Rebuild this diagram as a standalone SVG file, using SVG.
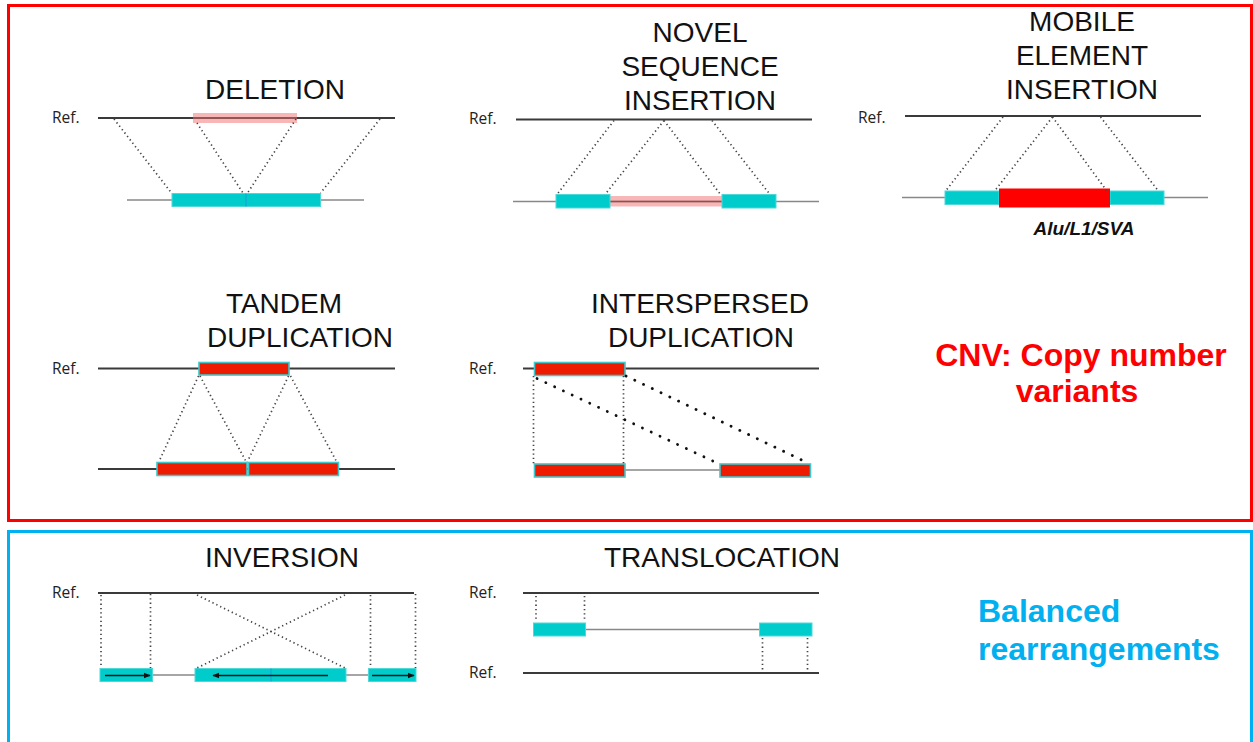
<svg xmlns="http://www.w3.org/2000/svg" width="1253" height="742" viewBox="0 0 1253 742">
  <style>
    .title { font-family: "Liberation Sans", Arial, sans-serif; font-size: 28px; fill: #111; text-anchor: middle; }
    .ref { font-family: "Open Sans", "Noto Sans", sans-serif; font-size: 15.5px; fill: #222; }
    .refline { stroke: #3a3a3a; stroke-width: 2; fill: none; }
    .thin { stroke: #888; stroke-width: 1.5; fill: none; }
    .dot { stroke: #444; stroke-width: 1.7; stroke-dasharray: 1.3 3; fill: none; }
    .bigdot { stroke: #111; stroke-width: 2.8; stroke-dasharray: 0.1 9.6; stroke-linecap: round; fill: none; }
    .seg { fill: #00cccc; stroke: #4fd8d8; stroke-width: 1; }
    .dup { fill: #ef1b00; stroke: #3cc8cc; stroke-width: 1.6; }
    .pink { fill: #f07070; fill-opacity: 0.5; }
    .div { stroke: #1e9bd8; stroke-width: 1; }
    .arr { stroke: #111; stroke-width: 1.3; fill: none; marker-end: url(#head); }
    .big { font-family: "Liberation Sans", Arial, sans-serif; font-size: 32px; font-weight: bold; }
  </style>
  <defs>
    <marker id="head" viewBox="0 0 10 10" refX="9" refY="5" markerWidth="7" markerHeight="7" markerUnits="userSpaceOnUse" orient="auto">
      <path d="M0,1 L10,5 L0,9 Z" fill="#111"/>
    </marker>
  </defs>

  <rect width="1253" height="742" fill="#ffffff"/>

  <!-- section frames -->
  <g id="frames">
    <rect x="8.5" y="5.5" width="1243" height="515" fill="none" stroke="#ff0000" stroke-width="3"/>
    <rect x="8.5" y="531.5" width="1243" height="230" fill="none" stroke="#00b0f0" stroke-width="3"/>
  </g>

  <!-- Deletion -->
  <g id="deletion">
    <text class="title" x="275" y="99">DELETION</text>
    <text class="ref" x="52" y="123">Ref.</text>
    <line class="refline" x1="98" y1="118" x2="395" y2="118"/>
    <rect class="pink" x="193" y="113" width="104" height="10"/>
    <line class="thin" x1="127" y1="200" x2="364" y2="200"/>
    <rect class="seg" x="172" y="193.5" width="148.5" height="13"/>
    <line class="div" x1="246" y1="193.5" x2="246" y2="206.5"/>
  </g>

  <!-- Novel sequence insertion -->
  <g id="novel-insertion">
    <text class="title" x="700" y="42">NOVEL</text>
    <text class="title" x="700" y="76">SEQUENCE</text>
    <text class="title" x="700" y="110">INSERTION</text>
    <text class="ref" x="469" y="124">Ref.</text>
    <line class="refline" x1="516" y1="119.5" x2="812" y2="119.5"/>
    <line class="thin" x1="513" y1="201.5" x2="819" y2="201.5"/>
    <line x1="610" y1="201.5" x2="722" y2="201.5" stroke="#333" stroke-width="1.5"/>
    <rect class="pink" x="610" y="196" width="112" height="10.5"/>
    <rect class="seg" x="556" y="194.5" width="54" height="13.5"/>
    <rect class="seg" x="722" y="194.5" width="54" height="13.5"/>
  </g>

  <!-- Mobile element insertion -->
  <g id="mobile-insertion">
    <text class="title" x="1082" y="31">MOBILE</text>
    <text class="title" x="1082" y="65">ELEMENT</text>
    <text class="title" x="1082" y="99">INSERTION</text>
    <text class="ref" x="858" y="123">Ref.</text>
    <line class="refline" x1="905" y1="116" x2="1201" y2="116"/>
    <line class="thin" x1="902" y1="197.5" x2="1208" y2="197.5"/>
    <rect class="seg" x="945" y="191" width="54" height="13.5"/>
    <rect class="seg" x="1110" y="191" width="54" height="13.5"/>
    <rect x="999" y="188.5" width="111" height="19" fill="#ff0000"/>
    <text x="1084" y="235" font-family="Liberation Sans, Arial, sans-serif" font-size="19" font-weight="bold" font-style="italic" fill="#111" text-anchor="middle">Alu/L1/SVA</text>
  </g>

  <!-- Tandem duplication -->
  <g id="tandem-duplication">
    <text class="title" x="284" y="313">TANDEM</text>
    <text class="title" x="300" y="347">DUPLICATION</text>
    <text class="ref" x="52" y="374">Ref.</text>
    <line class="refline" x1="98" y1="368.5" x2="395" y2="368.5"/>
    <rect class="dup" x="199" y="362.5" width="90" height="12.5"/>
    <line class="refline" x1="98" y1="469" x2="395" y2="469"/>
    <rect class="dup" x="157" y="462.5" width="90" height="13"/>
    <rect class="dup" x="248.5" y="462.5" width="90" height="13"/>
  </g>

  <!-- Interspersed duplication -->
  <g id="interspersed-duplication">
    <text class="title" x="700" y="313">INTERSPERSED</text>
    <text class="title" x="701" y="347">DUPLICATION</text>
    <text class="ref" x="469" y="374">Ref.</text>
    <line class="refline" x1="523" y1="368.5" x2="819" y2="368.5"/>
    <rect class="dup" x="534.5" y="362.5" width="90.5" height="13"/>
    <line class="thin" x1="534" y1="470" x2="810" y2="470"/>
    <rect class="dup" x="534.5" y="464" width="90.5" height="13"/>
    <rect class="dup" x="720" y="464" width="90.5" height="13"/>
  </g>

  <!-- Inversion -->
  <g id="inversion">
    <text class="title" x="282" y="567">INVERSION</text>
    <text class="ref" x="52" y="598">Ref.</text>
    <line class="refline" x1="98" y1="593" x2="414" y2="593"/>
    <line class="thin" x1="100" y1="675" x2="416" y2="675"/>
    <rect class="seg" x="100" y="668.5" width="52.5" height="13"/>
    <rect class="seg" x="195" y="668.5" width="151" height="13"/>
    <rect class="seg" x="368.5" y="668.5" width="47.5" height="13"/>
    <line class="div" x1="271" y1="668.5" x2="271" y2="681.5"/>
    <line class="arr" x1="105" y1="675.5" x2="150" y2="675.5"/>
    <line class="arr" x1="328" y1="675.5" x2="213" y2="675.5"/>
    <line class="arr" x1="372" y1="675.5" x2="414" y2="675.5"/>
  </g>

  <!-- Translocation -->
  <g id="translocation">
    <text class="title" x="722" y="567">TRANSLOCATION</text>
    <text class="ref" x="469" y="598">Ref.</text>
    <text class="ref" x="469" y="678">Ref.</text>
    <line class="refline" x1="523" y1="593" x2="819" y2="593"/>
    <line class="refline" x1="523" y1="673" x2="819" y2="673"/>
    <line class="thin" x1="585" y1="629.5" x2="760" y2="629.5"/>
    <rect class="seg" x="533.5" y="623" width="52" height="13"/>
    <rect class="seg" x="759.5" y="623" width="52.5" height="13"/>
  </g>

  <!-- dotted correspondence lines -->
  <g id="connectors">
    <line class="dot" x1="114" y1="119" x2="171.5" y2="193"/>
    <line class="dot" x1="197" y1="123" x2="243" y2="193"/>
    <line class="dot" x1="296" y1="119" x2="247.5" y2="193"/>
    <line class="dot" x1="380" y1="119" x2="320.5" y2="193"/>

    <line class="dot" x1="614" y1="120.5" x2="557" y2="194.5"/>
    <line class="dot" x1="664" y1="120.5" x2="605" y2="194.5"/>
    <line class="dot" x1="664" y1="120.5" x2="720.5" y2="194.5"/>
    <line class="dot" x1="712" y1="120.5" x2="770" y2="194.5"/>

    <line class="dot" x1="1003" y1="117" x2="946" y2="190.5"/>
    <line class="dot" x1="1052.5" y1="117" x2="995" y2="190.5"/>
    <line class="dot" x1="1052.5" y1="117" x2="1106.5" y2="190.5"/>
    <line class="dot" x1="1100.5" y1="117" x2="1158" y2="190.5"/>

    <line class="dot" x1="198.5" y1="376" x2="159" y2="461.5"/>
    <line class="dot" x1="200" y1="376" x2="246" y2="461.5"/>
    <line class="dot" x1="288.5" y1="376" x2="247.5" y2="461.5"/>
    <line class="dot" x1="290.5" y1="376" x2="336.5" y2="461.5"/>

    <line class="dot" x1="533.5" y1="376" x2="533.5" y2="464"/>
    <line class="dot" x1="623.5" y1="376" x2="623.5" y2="464"/>
    <line class="bigdot" x1="537" y1="378.5" x2="715" y2="462"/>
    <line class="bigdot" x1="626" y1="376" x2="806" y2="462"/>

    <line class="dot" x1="101" y1="595" x2="101" y2="668"/>
    <line class="dot" x1="150.5" y1="594" x2="150.5" y2="668"/>
    <line class="dot" x1="197" y1="595" x2="345" y2="668"/>
    <line class="dot" x1="345" y1="595" x2="197" y2="668"/>
    <line class="dot" x1="370.5" y1="595" x2="370.5" y2="668"/>
    <line class="dot" x1="415.5" y1="594" x2="415.5" y2="668"/>

    <line class="dot" x1="536" y1="596" x2="536" y2="621"/>
    <line class="dot" x1="584.5" y1="596" x2="584.5" y2="621"/>
    <line class="dot" x1="762.5" y1="638" x2="762.5" y2="671"/>
    <line class="dot" x1="807.5" y1="638" x2="807.5" y2="671"/>
  </g>

  <!-- category captions -->
  <g id="captions">
    <text class="big" x="1081" y="366" fill="#ff0000" text-anchor="middle">CNV: Copy number</text>
    <text class="big" x="1077" y="402" fill="#ff0000" text-anchor="middle">variants</text>
    <text class="big" x="978" y="622" fill="#00b0f0">Balanced</text>
    <text class="big" x="978" y="660" fill="#00b0f0">rearrangements</text>
  </g>
</svg>
